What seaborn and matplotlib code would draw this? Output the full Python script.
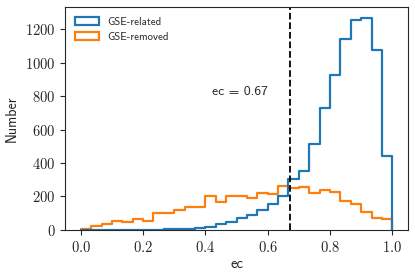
import numpy as np
import pandas as pd
import matplotlib
matplotlib.use('Agg')
import matplotlib.pyplot as plt
from matplotlib.patches import Patch
from matplotlib.ticker import FuncFormatter
import seaborn as sns

# 30 bins of width 1/30 on [0, 1], counts
n_bins = 30
related_counts = [0, 0, 0, 0, 0, 1, 1, 2, 3, 4,
                  6, 10, 20, 38, 50, 70, 88, 120, 154, 202,
                  303, 352, 513, 728, 927, 1144, 1258, 1270, 1079, 442]
removed_counts = [3, 24, 38, 54, 48, 64, 56, 102, 102, 120,
                  136, 136, 200, 164, 204, 200, 192, 220, 216, 260,
                  248, 256, 220, 240, 224, 170, 156, 108, 74, 64]
labels = ['GSE-related', 'GSE-removed']
ec_cut = 0.67

centers = (np.arange(n_bins) + 0.5) / n_bins
df = pd.DataFrame({
    'ec': np.concatenate([centers, centers]),
    'count': related_counts + removed_counts,
    'group': [labels[0]] * n_bins + [labels[1]] * n_bins,
})

sns.set_style('ticks')
plt.rcParams['mathtext.fontset'] = 'cm'
sans = 'cmss10'

fig = plt.figure(figsize=(4.15, 2.78), dpi=100)
ax = fig.add_axes([0.157, 0.173, 0.826, 0.802])

colors = ['#1f77b4', '#ff7f0e']
sns.histplot(data=df, x='ec', weights='count', hue='group', bins=n_bins,
             binrange=(0, 1), element='step', fill=False, palette=colors,
             linewidth=1.6, legend=False, ax=ax)

# close the step outlines down to zero at both ends, like histtype='step'
for line in ax.lines:
    x, y = line.get_xdata(), line.get_ydata()
    line.set_data(np.r_[x[0], x, x[-1]], np.r_[0, y, 0])

ax.axvline(ec_cut, color='black', linestyle='--', linewidth=1.3)
ax.text(0.42, 825, 'ec = %.2f' % ec_cut, fontsize=9.8, family=sans,
        va='center', ha='left')

ax.set_xlim(-0.05, 1.05)
ax.set_xticks([0.0, 0.2, 0.4, 0.6, 0.8, 1.0])
ax.set_yticks([0, 200, 400, 600, 800, 1000, 1200])
ax.xaxis.set_major_formatter(FuncFormatter(lambda v, p: '$%.1f$' % v))
ax.yaxis.set_major_formatter(FuncFormatter(lambda v, p: '$%d$' % v))
ax.tick_params(labelsize=10.5, length=3.5, width=0.8)
ax.set_xlabel('ec', family=sans, fontsize=10.5, labelpad=2)
ax.set_ylabel('Number', family=sans, fontsize=10)
for s in ax.spines.values():
    s.set_visible(True)
    s.set_linewidth(0.8)

handles = [Patch(facecolor='none', edgecolor=c, linewidth=1.6) for c in colors]
ax.legend(handles, labels, loc='upper left', frameon=False,
          prop={'family': sans, 'size': 7.8}, handlelength=2.2, handleheight=0.8)

fig.savefig('out.png', dpi=100)
